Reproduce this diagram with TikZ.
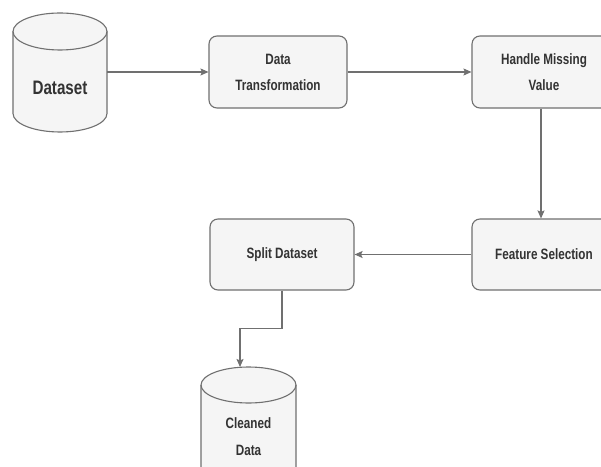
\documentclass[tikz,border=0pt]{standalone}
\usepackage{fontspec}
\setmainfont{Liberation Sans}[FakeStretch=0.78]
\usetikzlibrary{arrows.meta}
\definecolor{boxfill}{HTML}{F5F5F5}
\definecolor{boxline}{HTML}{707070}
\definecolor{txt}{HTML}{333333}
\tikzset{
  stepbox/.style={draw=boxline, fill=boxfill, line width=1.1pt, rounded corners=8pt,
    minimum width=138pt, minimum height=72pt, inner sep=0pt, align=center,
    text=txt, font=\fontsize{15}{26}\selectfont\bfseries},
  cyl/.style={draw=boxline, fill=boxfill, line width=1.1pt},
  cyltext/.style={align=center, text=txt, inner sep=0pt},
  conn/.style={draw=boxline, line width=1.1pt, -{Stealth[length=8pt,width=7pt,inset=1.5pt]}},
}
\begin{document}
\begin{tikzpicture}[x=1pt,y=1pt]
\useasboundingbox (0,0) rectangle (601,466);
\clip (0,0) rectangle (601,466);
\fill[white] (0,0) rectangle (601,466);
% Dataset cylinder
\path[cyl] (13,434.5) -- (13,352.5) arc[start angle=180,end angle=360,x radius=47,y radius=18.5]
  -- (107,434.5) arc[start angle=0,end angle=180,x radius=47,y radius=18.5] -- cycle;
\draw[boxline, line width=1.1pt] (13,434.5) arc[start angle=180,end angle=360,x radius=47,y radius=18.5];
\node[cyltext, font=\fontsize{19.5}{24}\selectfont\bfseries, minimum width=94pt, minimum height=80pt] (ds) at (60,378) {Dataset};
\coordinate (dsR) at (107,394);
% Boxes
\node[stepbox] (dt) at (278,394) {Data\\Transformation};
\node[stepbox, minimum width=144pt] (hm) at (544,394) {Handle Missing\\Value};
\node[stepbox, minimum width=144pt, minimum height=71pt] (fs) at (544,211.5) {Feature Selection};
\node[stepbox, minimum width=144pt, minimum height=71pt] (sd) at (282,211.5) {Split Dataset};
% Cleaned data cylinder
\path[cyl] (201,81) -- (201,-60) -- (296,-60) -- (296,81)
  arc[start angle=0,end angle=180,x radius=47.5,y radius=18] -- cycle;
\draw[boxline, line width=1.1pt] (201,81) arc[start angle=180,end angle=360,x radius=47.5,y radius=18];
\node[cyltext, font=\fontsize{15}{27}\selectfont\bfseries] (cd) at (248.5,29) {Cleaned\\Data};
\coordinate (cdT) at (240,99);
% Connectors
\draw[conn] (dsR) -- (dt.west);
\draw[conn] (dt.east) -- (hm.west);
\draw[conn] ([xshift=-3pt]hm.south) -- ([xshift=-3pt]fs.north);
\draw[conn] (fs.west) -- (sd.east);
\draw[conn] (sd.south) -- ++(0,-38) -| (cdT);
\end{tikzpicture}
\end{document}
